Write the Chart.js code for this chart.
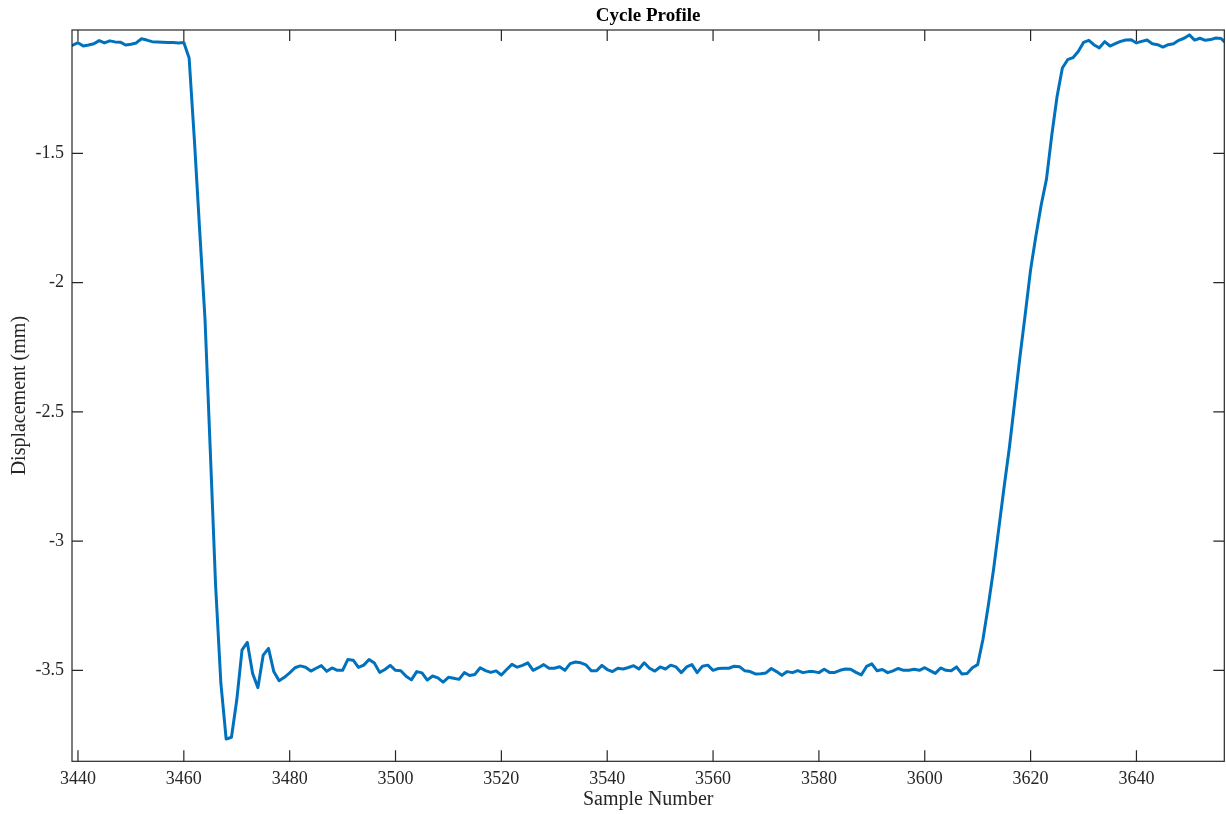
<!DOCTYPE html>
<html><head><meta charset="utf-8">
<script src="https://cdn.jsdelivr.net/npm/chart.js@4"></script>
<style>html,body{margin:0;padding:0;background:#fff;overflow:hidden}</style>
</head><body>
<canvas id="c" width="1226" height="814"></canvas>
<script>
const sampleStart = 3439;
const displacement = [
 -1.082,-1.072,-1.085,-1.081,-1.076,-1.064,-1.073,-1.065,-1.069,-1.070,
 -1.081,-1.078,-1.073,-1.057,-1.062,-1.068,-1.069,-1.070,-1.071,-1.071,
 -1.073,-1.071,-1.131,-1.45,-1.80,-2.14,-2.65,-3.17,-3.55,-3.766,
 -3.759,-3.615,-3.421,-3.392,-3.512,-3.567,-3.441,-3.415,-3.505,-3.540,
 -3.527,-3.510,-3.490,-3.483,-3.488,-3.503,-3.492,-3.482,-3.504,-3.491,
 -3.500,-3.500,-3.458,-3.461,-3.489,-3.480,-3.458,-3.472,-3.508,-3.497,
 -3.481,-3.500,-3.502,-3.523,-3.537,-3.505,-3.510,-3.538,-3.522,-3.529,
 -3.546,-3.527,-3.531,-3.535,-3.509,-3.520,-3.516,-3.490,-3.501,-3.508,
 -3.502,-3.518,-3.497,-3.477,-3.488,-3.481,-3.471,-3.500,-3.490,-3.478,
 -3.492,-3.492,-3.486,-3.500,-3.474,-3.468,-3.471,-3.479,-3.502,-3.502,
 -3.481,-3.497,-3.505,-3.492,-3.495,-3.489,-3.482,-3.495,-3.471,-3.492,
 -3.503,-3.487,-3.495,-3.480,-3.487,-3.509,-3.487,-3.478,-3.509,-3.484,
 -3.480,-3.500,-3.493,-3.492,-3.492,-3.484,-3.486,-3.502,-3.505,-3.514,
 -3.513,-3.510,-3.493,-3.505,-3.519,-3.505,-3.509,-3.501,-3.509,-3.505,
 -3.505,-3.509,-3.496,-3.508,-3.508,-3.500,-3.495,-3.496,-3.508,-3.518,
 -3.485,-3.475,-3.502,-3.497,-3.509,-3.502,-3.493,-3.500,-3.500,-3.496,
 -3.500,-3.490,-3.501,-3.512,-3.491,-3.500,-3.502,-3.487,-3.514,-3.512,
 -3.490,-3.478,-3.38,-3.25,-3.11,-2.95,-2.79,-2.637,-2.461,-2.285,
 -2.12,-1.95,-1.82,-1.70,-1.60,-1.43,-1.28,-1.17,-1.138,-1.130,
 -1.106,-1.071,-1.063,-1.081,-1.092,-1.068,-1.085,-1.076,-1.067,-1.062,
 -1.061,-1.073,-1.067,-1.062,-1.076,-1.080,-1.089,-1.080,-1.076,-1.063,
 -1.055,-1.042,-1.062,-1.055,-1.063,-1.060,-1.054,-1.056,-1.075
];
const samples = displacement.map((_, i) => sampleStart + i);
const xTicks = [3440, 3460, 3480, 3500, 3520, 3540, 3560, 3580, 3600, 3620, 3640];
const yTicks = [-3.5, -3, -2.5, -2, -1.5];
const xRange = [3438.87, 3656.6];
const yRange = [-3.852, -1.023];

const TEXT = '#262626';
const FONT = '"Liberation Serif", "Times New Roman", serif';

const boxPlugin = {
  id: 'box',
  afterDatasetsDraw(chart) {
    const { ctx, chartArea: a, scales: { x, y } } = chart;
    ctx.save();
    ctx.strokeStyle = TEXT;
    ctx.lineWidth = 1.2;
    ctx.strokeRect(a.left, a.top, a.right - a.left, a.bottom - a.top);
    const L = 11;
    ctx.beginPath();
    xTicks.forEach(v => {
      const px = x.getPixelForValue(v);
      ctx.moveTo(px, a.bottom); ctx.lineTo(px, a.bottom - L);
      ctx.moveTo(px, a.top); ctx.lineTo(px, a.top + L);
    });
    yTicks.forEach(v => {
      const py = y.getPixelForValue(v);
      ctx.moveTo(a.left, py); ctx.lineTo(a.left + L, py);
      ctx.moveTo(a.right, py); ctx.lineTo(a.right - L, py);
    });
    ctx.stroke();
    ctx.fillStyle = '#000';
    ctx.textAlign = 'center';
    ctx.textBaseline = 'middle';
    ctx.font = 'bold 19px ' + FONT;
    ctx.fillText('Cycle Profile', (a.left + a.right) / 2, 16);
    ctx.fillStyle = TEXT;
    ctx.font = '20px ' + FONT;
    ctx.fillText('Sample Number', (a.left + a.right) / 2, 800);
    ctx.translate(20, (a.top + a.bottom) / 2);
    ctx.rotate(-Math.PI / 2);
    ctx.fillText('Displacement (mm)', 0, 0);
    ctx.restore();
  }
};

new Chart(document.getElementById('c'), {
  type: 'line',
  data: {
    datasets: [{
      data: samples.map((s, i) => ({ x: s, y: displacement[i] })),
      borderColor: '#0072BD',
      borderWidth: 3,
      pointRadius: 0,
      tension: 0,
      fill: false,
      borderJoinStyle: 'round',
      borderCapStyle: 'round'
    }]
  },
  options: {
    responsive: false,
    animation: false,
    devicePixelRatio: 1,
    layout: { padding: { top: 30, right: 1.7, left: 0, bottom: 0 } },
    plugins: { legend: { display: false }, tooltip: { enabled: false }, title: { display: false } },
    scales: {
      x: {
        type: 'linear', min: xRange[0], max: xRange[1],
        grid: { display: false, drawTicks: false },
        border: { display: false },
        afterBuildTicks: s => { s.ticks = xTicks.map(v => ({ value: v })); },
        afterFit: s => { s.height = 52.7; },
        ticks: { font: { family: FONT, size: 18 }, color: TEXT, padding: 7, maxRotation: 0, autoSkip: false, callback: v => String(v) }
      },
      y: {
        type: 'linear', min: yRange[0], max: yRange[1],
        grid: { display: false, drawTicks: false },
        border: { display: false },
        afterBuildTicks: s => { s.ticks = yTicks.map(v => ({ value: v })); },
        afterFit: s => { s.width = 72; },
        ticks: { font: { family: FONT, size: 18 }, color: TEXT, padding: 8, autoSkip: false, callback: v => String(v) }
      }
    }
  },
  plugins: [boxPlugin]
});
</script>
</body></html>
